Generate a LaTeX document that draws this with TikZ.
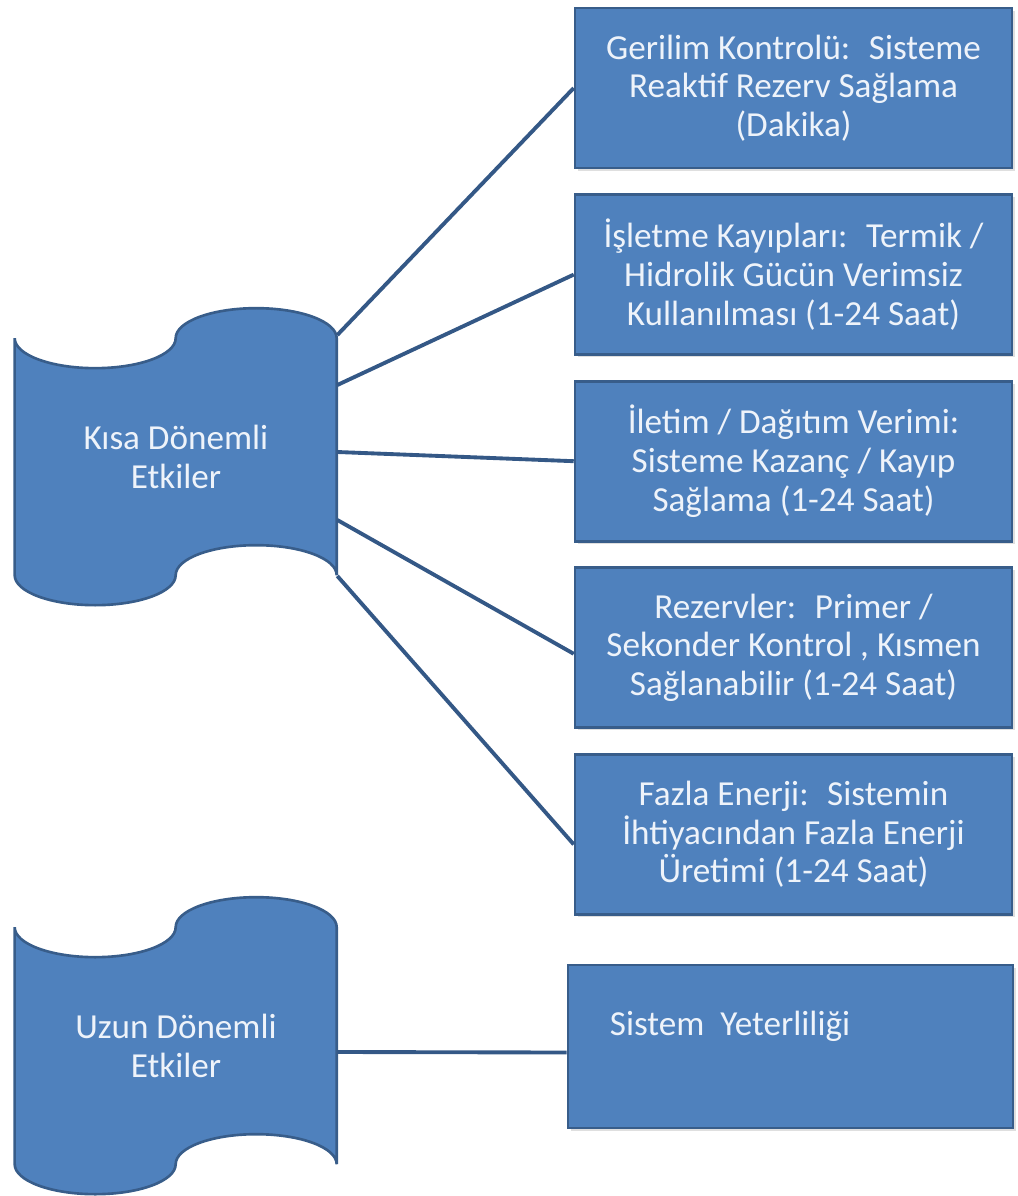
\documentclass[tikz,border=0pt]{standalone}
\usepackage{fontspec}
\setmainfont{Carlito}
\usetikzlibrary{positioning, shadows, backgrounds}

\definecolor{boxblue}{RGB}{79,129,189}
\definecolor{boxline}{RGB}{56,93,138}
\definecolor{linkblue}{RGB}{52,88,134}
\definecolor{boxtxt}{RGB}{238,243,250}

% punched tape outline round a tape node (pixel units, y down)
\newcommand{\drawtape}[1]{%
  \begin{scope}[shift={(#1.north west)}]
    \draw[tapeline] (0,30) .. controls (0,46.6) and (36,60) .. (80.5,60)
        .. controls (125,60) and (161,46.6) .. (161,30)
        .. controls (161,13.4) and (197,0) .. (241.5,0)
        .. controls (286,0) and (322,13.4) .. (322,30)
        -- (322,267)
        .. controls (322,250.4) and (286,237) .. (241.5,237)
        .. controls (197,237) and (161,250.4) .. (161,267)
        .. controls (161,283.6) and (125,297) .. (80.5,297)
        .. controls (36,297) and (0,283.6) .. (0,267)
        -- cycle;
  \end{scope}}

\begin{document}
\begin{tikzpicture}[x=0.02cm,y=-0.02cm,auto,node distance=0.48cm]
    \tikzstyle{effect}=[rectangle,fill=boxblue,draw=boxline,line width=1.5pt,text=boxtxt,
        font=\fontsize{20}{22}\selectfont,align=center,minimum width=8.74cm,minimum height=3.2cm,
        drop shadow={shadow xshift=1.5pt,shadow yshift=-1.5pt,opacity=0.25}]
    \tikzstyle{tape}=[rectangle,text=boxtxt,font=\fontsize{20}{22}\selectfont,align=center,
        minimum width=6.44cm,minimum height=5.94cm,inner sep=0pt]
    \tikzstyle{tapeline}=[fill=boxblue,draw=boxline,line width=1.5pt]
    \tikzstyle{link}=[draw=linkblue,line width=2.2pt]

    \useasboundingbox (0,0) rectangle (1017,1196);

    \node[tape]     (kisa)  at (176,457)        {Kısa Dönemli\\Etkiler};
    \node[tape]     (uzun)  at (176,1046)       {Uzun Dönemli\\Etkiler};
    \begin{pgfonlayer}{background}
        \drawtape{kisa}
        \drawtape{uzun}
    \end{pgfonlayer}

    \node[effect]   (gerilim)   at (793.5,88)       {Gerilim Kontrolü:~ Sisteme\\Reaktif Rezerv Sağlama\\(Dakika)};
    \node[effect]   (isletme)   [below=of gerilim]  {İşletme Kayıpları:~ Termik /\\Hidrolik Gücün Verimsiz\\Kullanılması (1-24 Saat)};
    \node[effect]   (iletim)    [below=of isletme]  {İletim / Dağıtım Verimi:\\Sisteme Kazanç / Kayıp\\Sağlama (1-24 Saat)};
    \node[effect]   (rezerv)    [below=of iletim]   {Rezervler:~ Primer /\\Sekonder Kontrol , Kısmen\\Sağlanabilir (1-24 Saat)};
    \node[effect]   (fazla)     [below=of rezerv]   {Fazla Enerji:~ Sistemin\\İhtiyacından Fazla Enerji\\Üretimi (1-24 Saat)};
    \node[effect,minimum width=8.9cm,minimum height=3.26cm,
        label={[text=boxtxt,font=\fontsize{20}{22}\selectfont,anchor=west,xshift=0.74cm,yshift=0.4cm]west:Sistem~ Yeterliliği}]
                    (yeterlilik) at (790.5,1046.5)  {};

    \path[link]
    ([yshift=2.44cm]kisa.east)  edge    (gerilim.west)
    ([yshift=1.44cm]kisa.east)  edge    (isletme.west)
    ([yshift=0.1cm]kisa.east)   edge    (iletim.west)
    ([yshift=-1.26cm]kisa.east) edge    ([yshift=-0.12cm]rezerv.west)
    ([yshift=-2.38cm]kisa.east) edge    ([yshift=-0.2cm]fazla.west)
    ([yshift=-0.12cm]uzun.east) edge    ([yshift=-0.12cm]yeterlilik.west);
\end{tikzpicture}
\end{document}
